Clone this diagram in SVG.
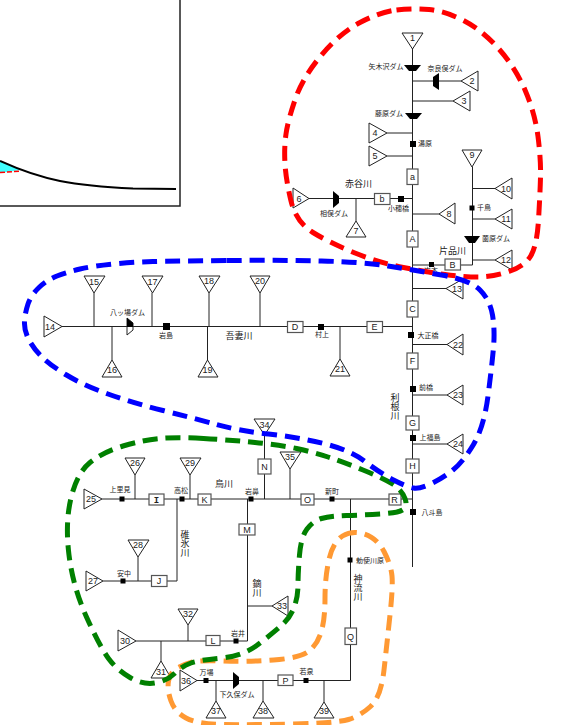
<svg xmlns="http://www.w3.org/2000/svg" width="562" height="725" viewBox="0 0 562 725">
<style>
text{font-family:"Noto Sans CJK JP","Liberation Sans",sans-serif;fill:#222}
.s{font-size:7px;text-anchor:middle}
.r{font-size:9px;text-anchor:middle}
.v{font-size:9px;writing-mode:vertical-rl;text-anchor:middle}
.n{font-family:"Liberation Sans",sans-serif;font-size:9px;text-anchor:middle}
.t{fill:#fff;stroke:#222;stroke-width:1}
.b{fill:#fff;stroke:#555;stroke-width:1.2}
.st{fill:#000}
.d{fill:#000}
.c line,.c path{stroke:#222;stroke-width:1;fill:none}
.h{fill:none;stroke-width:5;stroke-dasharray:15 8}
</style>
<rect x="-2" y="-2" width="182" height="208" fill="#fff" stroke="#222" stroke-width="1.5"/>
<path d="M0 161C8 164 15 167 21 170L0 173Z" fill="#40ffff"/>
<path d="M0 172.500L21 171" fill="none" stroke="#ff0000" stroke-width="1.500" stroke-dasharray="5 2"/>
<path d="M0 161C22 171 45 178 60 181C80 185 100 187 133 188.500L176 189" fill="none" stroke="#000" stroke-width="2"/>
<g id="connectors" class="c">
<line x1="412.500" y1="48" x2="412.500" y2="567"/>
<line x1="412" y1="81" x2="461" y2="81"/><line x1="412" y1="101" x2="453" y2="101"/>
<line x1="387" y1="133" x2="412" y2="133"/><line x1="387" y1="156" x2="412" y2="156"/>
<line x1="309" y1="198.500" x2="412" y2="198.500"/><line x1="356" y1="199" x2="356" y2="221"/>
<line x1="412" y1="214" x2="439" y2="214"/>
<path d="M412 265H472.500V167"/>
<line x1="472" y1="188.500" x2="495" y2="188.500"/><line x1="472" y1="219" x2="495" y2="219"/><line x1="472" y1="260" x2="495" y2="260"/>
<line x1="412" y1="288.500" x2="446" y2="288.500"/>
<line x1="62" y1="326.500" x2="412" y2="326.500"/>
<line x1="94" y1="293" x2="94" y2="326"/><line x1="112" y1="327" x2="112" y2="360"/>
<line x1="152" y1="293" x2="152" y2="326"/><line x1="209" y1="293" x2="209" y2="326"/>
<line x1="207.500" y1="327" x2="207.500" y2="360"/><line x1="260" y1="293" x2="260" y2="326"/>
<line x1="340" y1="327" x2="340" y2="359"/>
<line x1="412" y1="344.500" x2="447" y2="344.500"/><line x1="412" y1="395" x2="447" y2="395"/><line x1="412" y1="444" x2="447" y2="444"/>
<line x1="102" y1="499" x2="412" y2="499"/>
<line x1="135" y1="475" x2="135" y2="499"/><line x1="190" y1="475" x2="190" y2="499"/>
<path d="M177 499V581H103"/>
<line x1="138" y1="557" x2="138" y2="581"/>
<path d="M247.500 499V641H136"/>
<line x1="247" y1="606" x2="272" y2="606"/>
<line x1="188" y1="625" x2="188" y2="641"/><line x1="161" y1="641" x2="161" y2="661"/>
<line x1="264.500" y1="435" x2="264.500" y2="499"/><line x1="290" y1="469" x2="290" y2="499"/>
<path d="M350.500 499V680.500H197"/>
<line x1="216" y1="681" x2="216" y2="701"/><line x1="263" y1="681" x2="263" y2="701"/><line x1="324" y1="681" x2="324" y2="702"/>
</g>
<g id="n1"><polygon class="t" points="402,33 423,33 412.500,49"/><text class="n" x="412.500" y="41">1</text></g>
<g id="dam-yagisawa"><polygon class="d" points="404,65 421,65 416,71 409,71"/><text class="s" x="386" y="69">矢木沢ダム</text></g>
<g id="dam-naramata"><polygon class="d" points="433,77 439,73 439,90 433,86"/><text class="s" x="445" y="71">奈良俣ダム</text></g>
<g id="n2"><polygon class="t" points="461,81 478,71 478,91"/><text class="n" x="472" y="84">2</text></g>
<g id="n3"><polygon class="t" points="453,101 470,91 470,111"/><text class="n" x="464" y="104">3</text></g>
<g id="dam-fujiwara"><polygon class="d" points="405,113 422,113 417,119 410,119"/><text class="s" x="389" y="116">藤原ダム</text></g>
<g id="n4"><polygon class="t" points="369,123 387,133 369,143"/><text class="n" x="375" y="136">4</text></g>
<g id="st-yubara"><rect class="st" x="410" y="141" width="6" height="6"/><text class="s" x="425" y="146">湯原</text></g>
<g id="n5"><polygon class="t" points="369,146 387,156 369,166"/><text class="n" x="375" y="159">5</text></g>
<g id="box-a"><rect class="b" x="407" y="169" width="11" height="15.500"/><text class="n" x="412.500" y="180">a</text></g>
<g id="n6"><polygon class="t" points="293,188 309,198.500 293,208"/><text class="n" x="299" y="201.500">6</text></g>
<g id="dam-aimata"><polygon class="d" points="333,191 339,196 339,203 333,208"/><text class="s" x="334" y="216">相俣ダム</text></g>
<g id="n7"><polygon class="t" points="356,221 366,237 346,237"/><text class="n" x="356" y="234">7</text></g>
<g id="box-b"><rect class="b" x="374.500" y="193.500" width="15.500" height="11"/><text class="n" x="382" y="202">b</text></g>
<g id="st-obase"><rect class="st" x="398" y="196" width="6" height="6"/><text class="s" x="398.500" y="211">小穂橋</text></g>
<g id="n8"><polygon class="t" points="439,214 455,203 455,224"/><text class="n" x="449" y="217">8</text></g>
<g id="box-A"><rect class="b" x="407" y="231" width="11" height="16"/><text class="n" x="412.500" y="242">A</text></g>
<g id="st-iwamoto"><rect class="st" x="429" y="262" width="5" height="5"/><text class="s" x="431" y="273">岩本</text></g>
<g id="box-B"><rect class="b" x="445" y="259" width="15.500" height="11"/><text class="n" x="452.500" y="268">B</text></g>
<g id="n9"><polygon class="t" points="462,150 482,150 472,167"/><text class="n" x="472" y="158">9</text></g>
<g id="n10"><polygon class="t" points="495,188.500 512,178 512,199"/><text class="n" x="506" y="191.500">10</text></g>
<g id="st-chidori"><rect class="st" x="469.500" y="205.500" width="5" height="5"/><text class="s" x="484" y="210">千鳥</text></g>
<g id="n11"><polygon class="t" points="495,219 512,209 512,229"/><text class="n" x="506" y="222">11</text></g>
<g id="dam-sonohara"><polygon class="d" points="464,236 480,236 475,243 469,243"/><text class="s" x="496" y="241">薗原ダム</text></g>
<g id="n12"><polygon class="t" points="495,260 512,250 512,270"/><text class="n" x="506" y="263">12</text></g>
<g id="n13"><polygon class="t" points="446,288.500 463,279 463,299"/><text class="n" x="457" y="291.500">13</text></g>
<g id="box-C"><rect class="b" x="407" y="301" width="11" height="16"/><text class="n" x="412.500" y="312">C</text></g>
<g id="n14"><polygon class="t" points="44,316 62,326.500 44,337"/><text class="n" x="50" y="329.500">14</text></g>
<g id="n15"><polygon class="t" points="84,276 105,276 94,293"/><text class="n" x="94" y="285">15</text></g>
<g id="n16"><polygon class="t" points="112,360 122,377 102,377"/><text class="n" x="112" y="373">16</text></g>
<g id="dam-yanba"><polygon points="127,318 133,323 133,330 127,335" fill="#fff" stroke="#222" stroke-width="1"/><polygon class="d" points="127,318 133,323 133,327 127,327"/><text class="s" x="127.500" y="315">八ッ場ダム</text></g>
<g id="n17"><polygon class="t" points="142,276 163,276 152.500,293"/><text class="n" x="152.500" y="285">17</text></g>
<g id="st-iwashima"><rect class="st" x="163" y="323" width="7" height="7"/><text class="s" x="166" y="338">岩島</text></g>
<g id="n18"><polygon class="t" points="199,276 220,276 209,293"/><text class="n" x="209" y="284">18</text></g>
<g id="n19"><polygon class="t" points="207.500,360 218,377 198,377"/><text class="n" x="207.500" y="373">19</text></g>
<g id="n20"><polygon class="t" points="250,276 270,276 260,293"/><text class="n" x="260" y="284">20</text></g>
<g id="box-D"><rect class="b" x="287.500" y="321.500" width="15.500" height="11"/><text class="n" x="295" y="330">D</text></g>
<g id="st-murakami"><rect class="st" x="318" y="324" width="6" height="6"/><text class="s" x="322" y="337">村上</text></g>
<g id="n21"><polygon class="t" points="340,359 350,376 330,376"/><text class="n" x="340" y="372">21</text></g>
<g id="box-E"><rect class="b" x="367" y="321.500" width="15.500" height="11"/><text class="n" x="374.500" y="330">E</text></g>
<g id="st-taisho"><rect class="st" x="408" y="332" width="6" height="6"/><text class="s" x="428" y="337.500">大正橋</text></g>
<g id="n22"><polygon class="t" points="447,344.500 463,334 463,355"/><text class="n" x="458" y="347.500">22</text></g>
<g id="box-F"><rect class="b" x="407" y="353" width="11" height="16"/><text class="n" x="412.500" y="364">F</text></g>
<g id="st-maebashi"><rect class="st" x="410" y="386" width="6" height="6"/><text class="s" x="426" y="390">前橋</text></g>
<g id="n23"><polygon class="t" points="447,395 463,385 463,405"/><text class="n" x="458" y="398">23</text></g>
<g id="box-G"><rect class="b" x="406" y="416" width="13" height="14"/><text class="n" x="412.500" y="426">G</text></g>
<g id="st-kamifukushima"><rect class="st" x="410" y="435" width="6" height="6"/><text class="s" x="430" y="440">上福島</text></g>
<g id="n24"><polygon class="t" points="447,444 463,434 463,454"/><text class="n" x="458" y="447">24</text></g>
<g id="box-H"><rect class="b" x="406" y="459" width="13" height="14"/><text class="n" x="412.500" y="469">H</text></g>
<g id="n25"><polygon class="t" points="84,489 102,499 84,509"/><text class="n" x="91" y="502">25</text></g>
<g id="st-kamisatomi"><rect class="st" x="119.500" y="496.500" width="5" height="5"/><text class="s" x="120" y="492">上里見</text></g>
<g id="n26"><polygon class="t" points="125,458 145,458 135,475"/><text class="n" x="135" y="466">26</text></g>
<g id="box-I"><rect class="b" x="149" y="494" width="15" height="11"/><text class="n" x="156.500" y="502.500" style="font-family:'Liberation Mono',monospace;font-weight:bold">I</text></g>
<g id="st-takasaki"><rect class="st" x="179.500" y="496.500" width="5" height="5"/><text class="s" x="181" y="493">高松</text></g>
<g id="n29"><polygon class="t" points="180,458 201,458 190,475"/><text class="n" x="190" y="466">29</text></g>
<g id="box-K"><rect class="b" x="198" y="494" width="13" height="11"/><text class="n" x="204.500" y="502.500">K</text></g>
<g id="st-iwahana"><rect class="st" x="248.500" y="496.500" width="5" height="5"/><text class="s" x="252" y="494">岩鼻</text></g>
<g id="box-M"><rect class="b" x="239" y="524" width="16" height="11"/><text class="n" x="247" y="532.500">M</text></g>
<g id="n34"><polygon class="t" points="254,419 275,419 264.500,435"/><text class="n" x="264.500" y="428">34</text></g>
<g id="box-N"><rect class="b" x="258" y="459" width="13" height="15"/><text class="n" x="264.500" y="470">N</text></g>
<g id="n35"><polygon class="t" points="280,452 301,452 290,469"/><text class="n" x="290" y="460">35</text></g>
<g id="box-O"><rect class="b" x="301" y="494" width="13" height="11"/><text class="n" x="307.500" y="502.500">O</text></g>
<g id="st-shinmachi"><rect class="st" x="329.500" y="496.500" width="5" height="5"/><text class="s" x="332" y="494">新町</text></g>
<g id="box-R"><rect class="b" x="389" y="494" width="12" height="11"/><text class="n" x="394.500" y="502.500">R</text></g>
<g id="st-yattajima"><rect class="st" x="410" y="509" width="6" height="6"/><text class="s" x="432" y="515">八斗島</text></g>
<g id="st-teshigawara"><rect class="st" x="347.500" y="557.500" width="5" height="5"/><text class="s" x="370" y="563">勅使川原</text></g>
<g id="box-Q"><rect class="b" x="345" y="628" width="11.500" height="16.500"/><text class="n" x="350.500" y="639.500">Q</text></g>
<g id="n28"><polygon class="t" points="128,540 149,540 138,557"/><text class="n" x="138" y="548">28</text></g>
<g id="n27"><polygon class="t" points="86,571 103,581 86,591"/><text class="n" x="93" y="584">27</text></g>
<g id="st-annaka"><rect class="st" x="120.500" y="578.500" width="5" height="5"/><text class="s" x="124" y="576">安中</text></g>
<g id="box-J"><rect class="b" x="151.500" y="575.500" width="15.500" height="11"/><text class="n" x="159" y="584">J</text></g>
<g id="n33"><polygon class="t" points="272,606 288,596 288,616"/><text class="n" x="282" y="609">33</text></g>
<g id="box-L"><rect class="b" x="206" y="635.500" width="14" height="10"/><text class="n" x="213" y="644">L</text></g>
<g id="st-iwai"><rect class="st" x="233.500" y="638.500" width="5" height="5"/><text class="s" x="238" y="636">岩井</text></g>
<g id="n32"><polygon class="t" points="178,609 198,609 188,625"/><text class="n" x="188" y="617">32</text></g>
<g id="n30"><polygon class="t" points="118,630 136,641 118,651"/><text class="n" x="125" y="644">30</text></g>
<g id="n31"><polygon class="t" points="161,661 171,678 151,678"/><text class="n" x="161" y="675">31</text></g>
<g id="n36"><polygon class="t" points="180,670 197,680.500 180,691"/><text class="n" x="186" y="683.500">36</text></g>
<g id="st-manba"><rect class="st" x="203.500" y="678" width="5" height="5"/><text class="s" x="206.500" y="675">万場</text></g>
<g id="dam-shimokubo"><polygon class="d" points="233,672 239,677 239,684 233,689"/><text class="s" x="237" y="697">下久保ダム</text></g>
<g id="n37"><polygon class="t" points="216,701 226,718 206,718"/><text class="n" x="216" y="714">37</text></g>
<g id="n38"><polygon class="t" points="263,701 274,718 253,718"/><text class="n" x="263" y="714">38</text></g>
<g id="box-P"><rect class="b" x="278" y="675" width="15" height="10.500"/><text class="n" x="285.500" y="683.500">P</text></g>
<g id="st-wakaizumi"><rect class="st" x="303.500" y="678" width="5" height="5"/><text class="s" x="306.500" y="674">若泉</text></g>
<g id="n39"><polygon class="t" points="324,702 334,718 314,718"/><text class="n" x="324" y="714">39</text></g>
<text class="r" x="358.500" y="187">赤谷川</text>
<text class="r" x="452.500" y="254">片品川</text>
<text class="r" x="239" y="339">吾妻川</text>
<text class="r" x="224" y="487">烏川</text>
<text class="v" x="395" y="407">利根川</text>
<text class="v" x="185" y="544">碓氷川</text>
<text class="v" x="257" y="588">鏑川</text>
<text class="v" x="358" y="588">神流川</text>
<path class="h" stroke="#ff9933" d="M342.500 536Q352 530 364.500 534Q377 538 384 551.500Q391 565 392 576Q393 587 390 615Q387 643 384 670Q381 697 370.500 706.500Q360 716 348.500 719.500Q337 723 293.500 724Q250 725 223.500 724.500Q197 724 186 718Q175 712 171 701Q167 690 168.500 681Q170 672 177.500 668Q185 664 192.500 662Q200 660 223.500 661Q247 662 273.500 660Q300 658 308.500 651.500Q317 645 321 632.500Q325 620 325 598.500Q325 577 329 559.500Q333 542 342.500 536Z"/>
<path class="h" stroke="#008000" d="M203.500 438.500Q177 437 160 438.500Q143 440 123 446Q103 452 90 462.500Q77 473 71 498Q65 523 69 555Q73 587 86.500 617Q100 647 108.500 658.500Q117 670 130 677.500Q143 685 155 683Q167 681 174.500 673.500Q182 666 191 663Q200 660 221.500 658Q243 656 258 644.500Q273 633 281.500 625.500Q290 618 294 607.500Q298 597 298 585Q298 573 299.500 555Q301 537 307 529Q313 521 321.500 518.500Q330 516 346.500 515.500Q363 515 380 514Q397 513 402.500 510Q408 507 405 498.500Q402 490 392.500 484Q383 478 363 470Q343 462 328 457Q313 452 296.500 448.500Q280 445 255 442.500Q230 440 203.500 438.500Z"/>
<path class="h" stroke="#ff0000" d="M396.500 10Q413 8 429 9.500Q445 11 463.500 20.500Q482 30 498.500 48.500Q515 67 525 90Q535 113 538 136.500Q541 160 540.500 177.500Q540 195 538.500 220Q537 245 531 255.500Q525 266 509 271.500Q493 277 478 277Q463 277 445 274.500Q427 272 403.500 267.500Q380 263 355 253Q330 243 313 232.500Q296 222 291 201Q286 180 285 164Q284 148 286 134Q288 120 295.500 98.500Q303 77 321.500 55Q340 33 360 22.500Q380 12 396.500 10Z"/>
<path class="h" stroke="#0000ff" d="M226.500 260.500Q280 260 321.500 261Q363 262 388 266Q413 270 441.500 275Q470 280 480 290Q490 300 492.500 315Q495 330 493.500 347.500Q492 365 488 396Q484 427 473.500 444.500Q463 462 453 470Q443 478 431.500 483.500Q420 489 413.500 488Q407 487 393.500 480Q380 473 365 461.500Q350 450 323.500 443.500Q297 437 268.500 434Q240 431 216.500 424.500Q193 418 163 410.500Q133 403 108 394Q83 385 66.500 375Q50 365 41.500 356.500Q33 348 28.500 339Q24 330 24.500 321.500Q25 313 28 304Q31 295 39 287.500Q47 280 57 276Q67 272 80 269Q93 266 113 264Q133 262 153 261.500Q173 261 226.500 260.500Z"/>
</svg>
